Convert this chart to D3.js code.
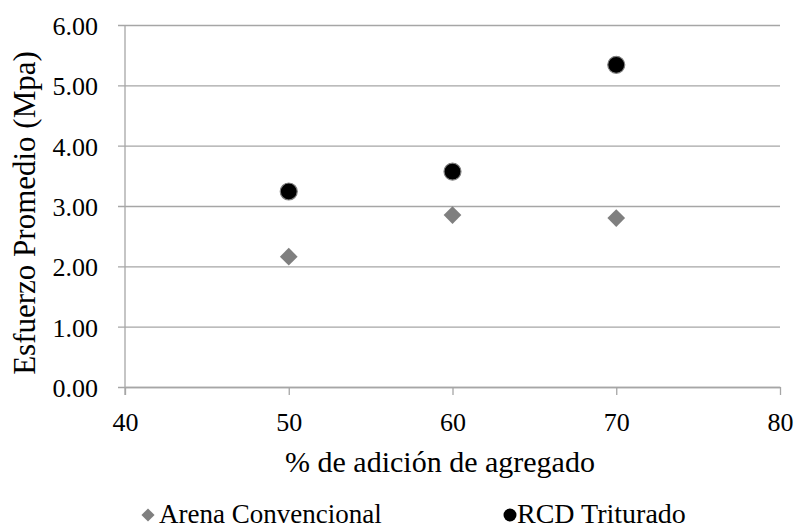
<!DOCTYPE html>
<html>
<head>
<meta charset="utf-8">
<script src="https://cdn.jsdelivr.net/npm/d3@7"></script>
<style>
  body { margin: 0; background: #fff; }
  text { font-family: "Liberation Serif", "Times New Roman", serif; fill: #000; }
</style>
</head>
<body>
<svg id="chart" width="801" height="530"></svg>
<script>
// data
const adicion = [50, 60, 70];
const arenaConvencional = [2.16, 2.85, 2.80];
const rcdTriturado = [3.24, 3.57, 5.34];
const xTicks = [40, 50, 60, 70, 80];
const yTicks = [0, 1, 2, 3, 4, 5, 6];

const svg = d3.select('#chart');
const margin = {top: 25, left: 125, right: 21, bottom: 143};
const width = 801, height = 530;
const gridColor = '#a6a6a6';

const x = d3.scaleLinear().domain([40, 80]).range([margin.left, width - margin.right]);
const y = d3.scaleLinear().domain([0, 6]).range([height - margin.bottom, margin.top]);

// horizontal grid lines + y axis labels
const yAxis = svg.append('g')
  .attr('transform', `translate(${margin.left},0)`)
  .call(d3.axisLeft(y).tickValues(yTicks).tickFormat(d3.format('.2f'))
    .tickSizeInner(-(width - margin.left - margin.right)).tickSizeOuter(0).tickPadding(27));
yAxis.select('.domain').remove();
yAxis.selectAll('.tick line').attr('stroke', gridColor).attr('stroke-width', 1.3)
  .attr('x1', -7);
yAxis.selectAll('.tick text').attr('font-size', 26).attr('dy', '0.37em')
  .attr('font-family', 'Liberation Serif');

// vertical axis line
svg.append('line')
  .attr('x1', margin.left).attr('x2', margin.left)
  .attr('y1', y(6)).attr('y2', y(0) + 8)
  .attr('stroke', gridColor).attr('stroke-width', 1.3);

// x axis
const xAxis = svg.append('g')
  .attr('transform', `translate(0,${y(0)})`)
  .call(d3.axisBottom(x).tickValues(xTicks).tickSizeInner(8).tickSizeOuter(0).tickPadding(18));
xAxis.select('.domain').attr('stroke', gridColor).attr('stroke-width', 1.3);
xAxis.selectAll('.tick line').attr('stroke', gridColor).attr('stroke-width', 1.3);
xAxis.selectAll('.tick text').attr('font-size', 26).attr('font-family', 'Liberation Serif');

// axis titles
svg.append('text')
  .attr('x', 440).attr('y', 472)
  .attr('text-anchor', 'middle').attr('font-size', 30)
  .text('% de adición de agregado');

svg.append('text')
  .attr('transform', `translate(35,213) rotate(-90)`)
  .attr('text-anchor', 'middle').attr('font-size', 31)
  .text('Esfuerzo Promedio (Mpa)');

// markers
const diamond = d3.symbol().type(d3.symbolDiamond2).size(200);

svg.append('g').selectAll('path').data(adicion)
  .enter().append('path')
  .attr('d', diamond)
  .attr('transform', (d, i) => `translate(${x(d)},${y(arenaConvencional[i])})`)
  .attr('fill', '#7f7f7f');

svg.append('g').selectAll('circle').data(adicion)
  .enter().append('circle')
  .attr('cx', d => x(d))
  .attr('cy', (d, i) => y(rcdTriturado[i]))
  .attr('r', 8.5)
  .attr('fill', '#000')
  .attr('stroke', '#808080').attr('stroke-width', 1.2);

// legend
const legend = svg.append('g');
legend.append('path')
  .attr('d', d3.symbol().type(d3.symbolDiamond2).size(110))
  .attr('transform', 'translate(148,515)')
  .attr('fill', '#7f7f7f');
legend.append('text').attr('x', 159).attr('y', 523).attr('font-size', 27)
  .text('Arena Convencional');
legend.append('circle').attr('cx', 510).attr('cy', 515).attr('r', 6.5)
  .attr('fill', '#000');
legend.append('text').attr('x', 517).attr('y', 523).attr('font-size', 28)
  .text('RCD Triturado');
</script>
</body>
</html>
